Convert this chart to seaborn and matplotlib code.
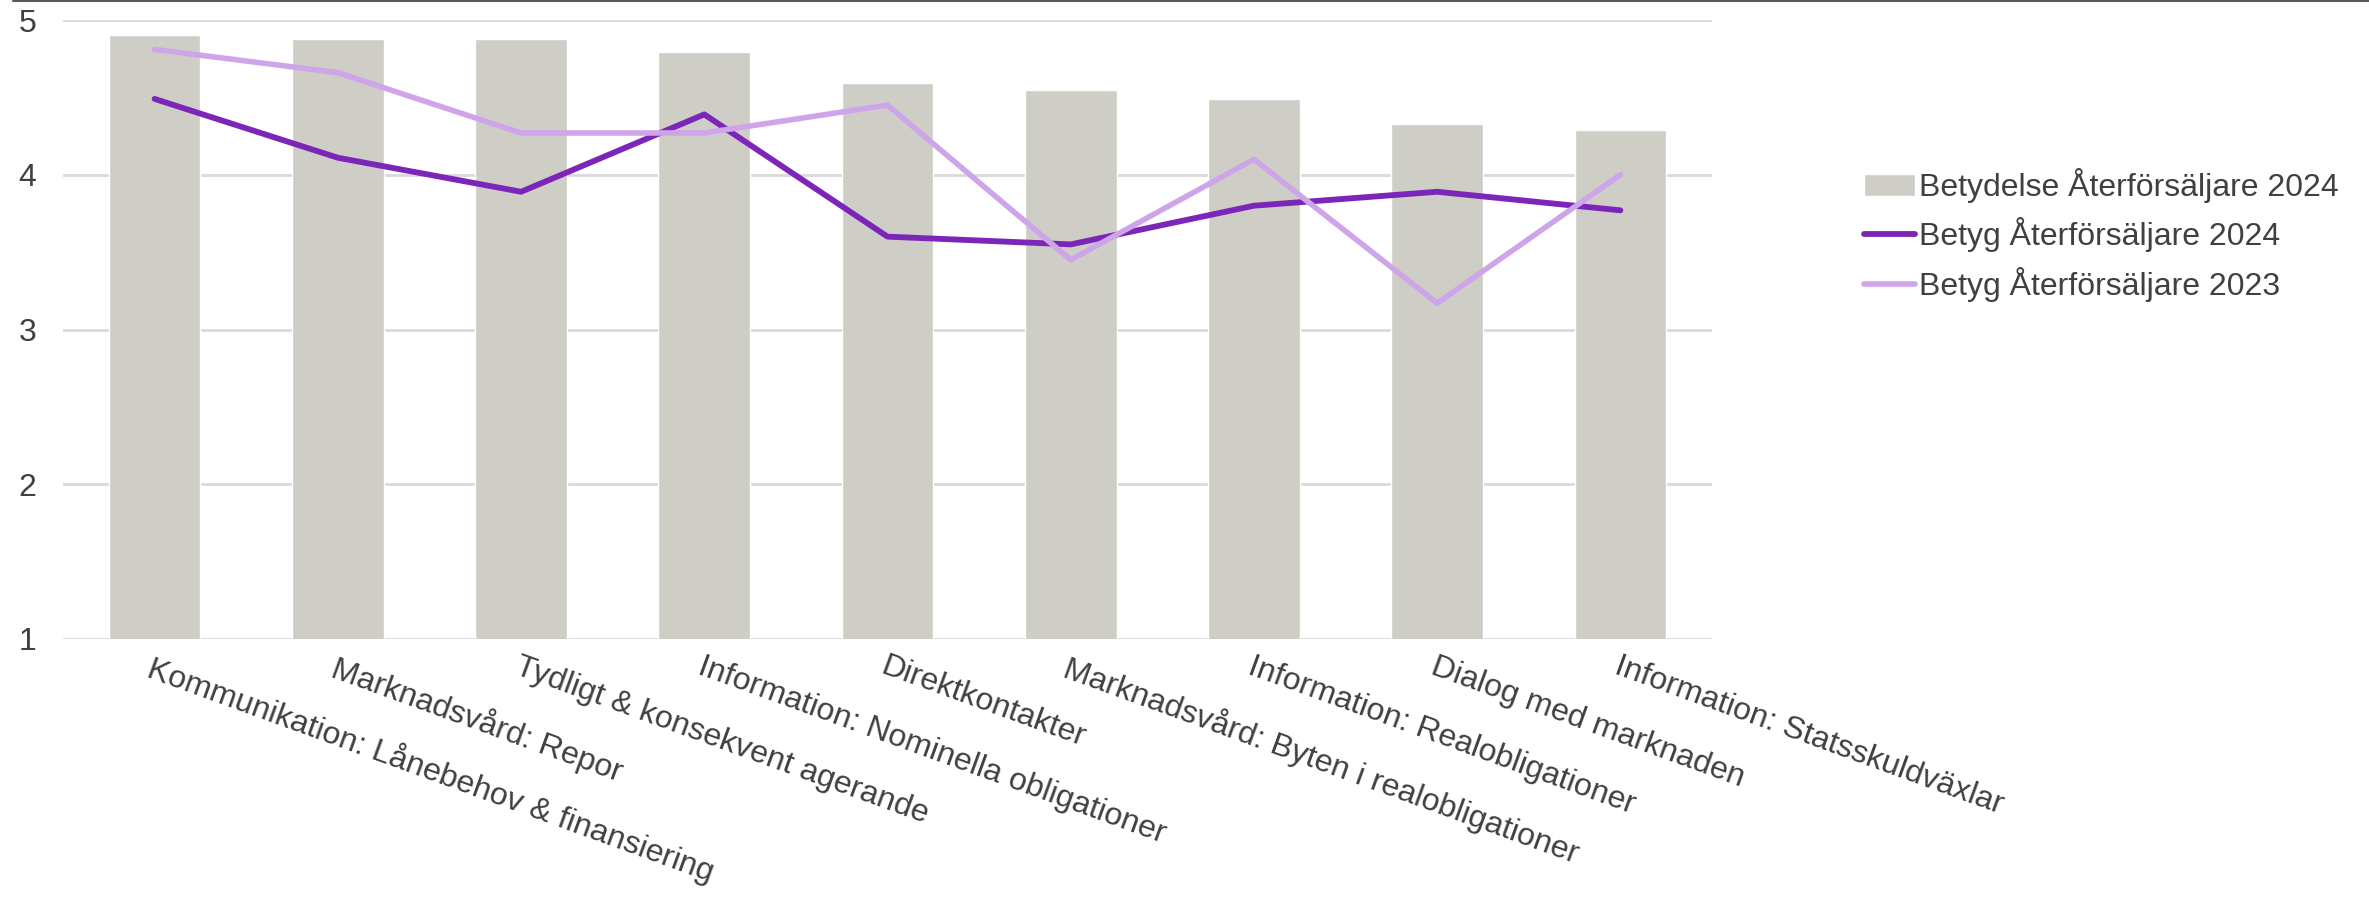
import numpy as np
import pandas as pd
import matplotlib
matplotlib.use('Agg')
import matplotlib.pyplot as plt
import seaborn as sns
from matplotlib.lines import Line2D

kategorier = ['Kommunikation: Lånebehov & finansiering', 'Marknadsvård: Repor',
              'Tydligt & konsekvent agerande', 'Information: Nominella obligationer',
              'Direktkontakter', 'Marknadsvård: Byten i realobligationer',
              'Information: Realobligationer', 'Dialog med marknaden',
              'Information: Statsskuldväxlar']
betydelse_2024 = [4.90, 4.88, 4.88, 4.79, 4.59, 4.55, 4.49, 4.33, 4.29]
betyg_2024 = [4.49, 4.11, 3.89, 4.39, 3.60, 3.55, 3.80, 3.89, 3.77]
betyg_2023 = [4.81, 4.66, 4.27, 4.27, 4.45, 3.45, 4.10, 3.17, 4.00]
y_ticks = [1, 2, 3, 4, 5]

df = pd.DataFrame({'kategori': kategorier, 'pos': np.arange(len(kategorier)),
                   'betydelse': betydelse_2024, 'b24': betyg_2024, 'b23': betyg_2023})

sns.set_theme(style='white')
plt.rcParams['font.family'] = ['Liberation Sans', 'DejaVu Sans']
text_col = '#404040'
fs = 23

fig = plt.figure(figsize=(23.69, 8.98), dpi=100)
ax = fig.add_axes([63 / 2369, 1 - 639 / 898, (1712 - 63) / 2369, (639 - 20) / 898])

sns.barplot(data=df, x='pos', y='betydelse', color='#CECEC6', width=0.5, saturation=1,
            label='Betydelse Återförsäljare 2024', ax=ax, zorder=2)
sns.lineplot(data=df, x='pos', y='b24', color='#7B26B8', linewidth=4.2, sort=False,
             label='Betyg Återförsäljare 2024', ax=ax, zorder=3)
sns.lineplot(data=df, x='pos', y='b23', color='#CFA5EA', linewidth=4.0, sort=False,
             label='Betyg Återförsäljare 2023', ax=ax, zorder=4)

ax.set_ylim(1, 5)
ax.set_xlim(-0.5, len(kategorier) - 0.5)
ax.set_yticks(y_ticks)
ax.set_yticklabels([str(v) for v in y_ticks], fontsize=fs, color=text_col)
ax.set_xticks(df['pos'])
ax.set_xticklabels(kategorier, fontsize=fs, color=text_col, rotation=-20,
                   ha='left', va='top', rotation_mode='anchor')
ax.tick_params(axis='y', length=0, pad=19)
ax.tick_params(axis='x', length=0, pad=9)
ax.yaxis.grid(True, color='#D9D9D9', linewidth=2)
ax.set_axisbelow(True)
for s in ax.spines.values():
    s.set_visible(False)
ax.set_xlabel('')
ax.set_ylabel('')

handles, labels = ax.get_legend_handles_labels()
order = [labels.index(l) for l in ['Betydelse Återförsäljare 2024',
                                   'Betyg Återförsäljare 2024',
                                   'Betyg Återförsäljare 2023']]
ax.legend([handles[i] for i in order], [labels[i] for i in order],
          loc='center left', bbox_to_anchor=(1864 / 2369, 1 - 235 / 898),
          bbox_transform=fig.transFigure, frameon=False, fontsize=fs,
          labelcolor=text_col, handlelength=1.6, handletextpad=0.12,
          labelspacing=0.45, borderpad=0, borderaxespad=0)

# thin border line at the top of the picture
fig.add_artist(Line2D([13 / 2369, 1], [0.999, 0.999], transform=fig.transFigure,
                      color='#5A5A5A', linewidth=1.5))

fig.savefig('out.png', dpi=100, facecolor='white')
